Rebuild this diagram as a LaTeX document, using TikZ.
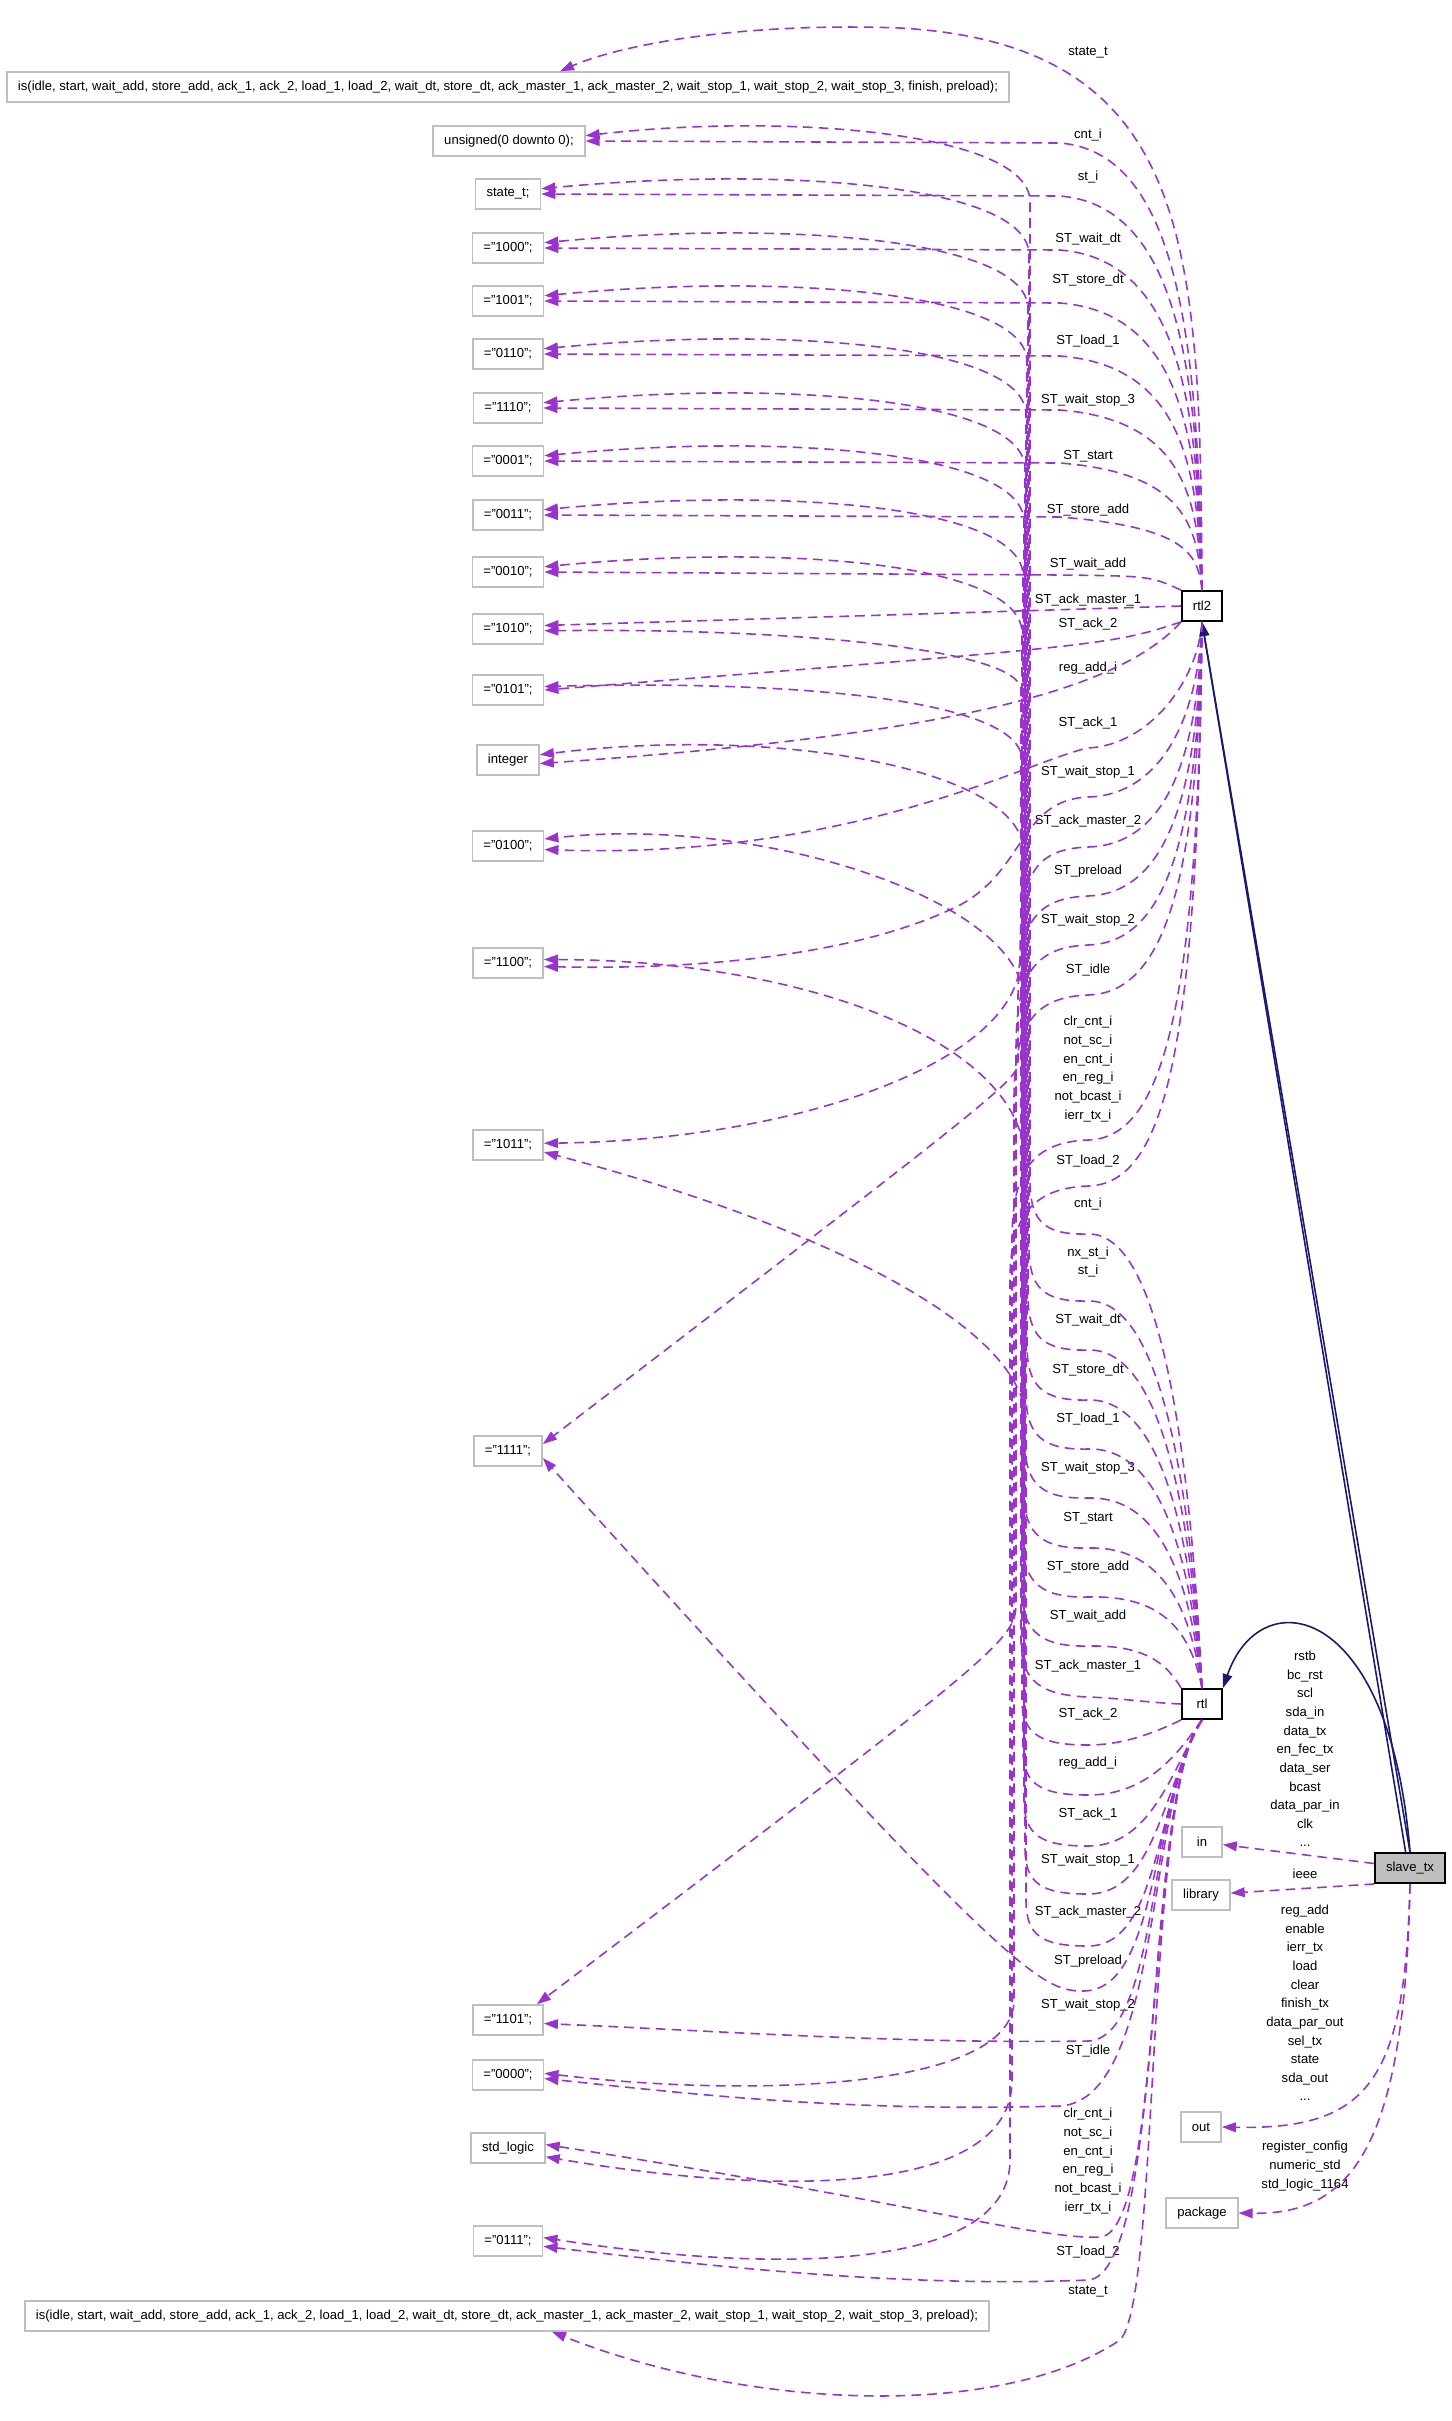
\documentclass[tikz,border=0pt]{standalone}
\usepackage{fontspec}
\setmainfont{Liberation Sans}
\usepackage{tikz}
\usetikzlibrary{arrows.meta, calc}
\definecolor{usecolor}{RGB}{154,50,205}
\definecolor{inhcolor}{RGB}{25,25,112}
\definecolor{boxgray}{RGB}{191,191,191}

\begin{document}
\begin{tikzpicture}[
    x=0.02cm, y=-0.02cm,
    gbox/.style={draw=boxgray, line width=0.9pt, fill=white, minimum width=0.8cm, minimum height=0.6cm, inner xsep=0.22cm, inner ysep=0pt, font=\fontsize{7.45}{10.6}\selectfont},
    cbox/.style={gbox, draw=black, line width=1.1pt},
    sbox/.style={gbox, draw=black, fill=boxgray, line width=1.1pt},
    lbl/.style={inner sep=0pt, align=center, font=\fontsize{7.45}{10.6}\selectfont},
    dep/.style={draw=usecolor, line width=0.9pt, dash pattern=on 5.5pt off 3.5pt, -{Triangle[length=8pt, width=5.5pt]}},
    inh/.style={draw=inhcolor, line width=0.9pt, -{Triangle[length=8pt, width=5.5pt]}}
]
    \useasboundingbox (0,0) rectangle (1451,2421);

    % type and value boxes
    \node[gbox] (istop) at (508,87) {is(idle, start, wait\_add, store\_add, ack\_1, ack\_2, load\_1, load\_2, wait\_dt, store\_dt, ack\_master\_1, ack\_master\_2, wait\_stop\_1, wait\_stop\_2, wait\_stop\_3, finish, preload);};
    \node[gbox] (unsgn) at (509,141) {unsigned(0 downto 0);};
    \node[gbox] (statet) at (508,194) {state\_t;};
    \node[gbox] (v1000) at (508,248) {="1000";};
    \node[gbox] (v1001) at (508,301) {="1001";};
    \node[gbox] (v0110) at (508,354) {="0110";};
    \node[gbox] (v1110) at (508,408) {="1110";};
    \node[gbox] (v0001) at (508,461) {="0001";};
    \node[gbox] (v0011) at (508,515) {="0011";};
    \node[gbox] (v0010) at (508,572) {="0010";};
    \node[gbox] (v1010) at (508,629) {="1010";};
    \node[gbox] (v0101) at (508,690) {="0101";};
    \node[gbox] (intg) at (508,760) {integer};
    \node[gbox] (v0100) at (508,846) {="0100";};
    \node[gbox] (v1100) at (508,963) {="1100";};
    \node[gbox] (v1011) at (508,1145) {="1011";};
    \node[gbox] (v1111) at (508,1451) {="1111";};
    \node[gbox] (v1101) at (508,2020) {="1101";};
    \node[gbox] (v0000) at (508,2075) {="0000";};
    \node[gbox] (stdlog) at (508,2148) {std\_logic};
    \node[gbox] (v0111) at (508,2241) {="0111";};
    \node[gbox] (isbot) at (507,2316) {is(idle, start, wait\_add, store\_add, ack\_1, ack\_2, load\_1, load\_2, wait\_dt, store\_dt, ack\_master\_1, ack\_master\_2, wait\_stop\_1, wait\_stop\_2, wait\_stop\_3, preload);};

    % architectures, entity and clauses
    \node[cbox] (rtltwo) at (1202,606) {rtl2};
    \node[cbox] (rtlone) at (1202,1704) {rtl};
    \node[sbox] (slave) at (1410,1868) {slave\_tx};
    \node[gbox] (inbox) at (1202,1842) {in};
    \node[gbox] (libbox) at (1201,1895) {library};
    \node[gbox] (outbox) at (1201,2127) {out};
    \node[gbox] (pkgbox) at (1202,2213) {package};

    % labels of rtl2
    \node[lbl] (l2state) at (1088,53) {state\_t};
    \node[lbl] (l2cnt) at (1088,135) {cnt\_i};
    \node[lbl] (l2st) at (1088,177) {st\_i};
    \node[lbl] (l2waitdt) at (1088,239) {ST\_wait\_dt};
    \node[lbl] (l2storedt) at (1088,280) {ST\_store\_dt};
    \node[lbl] (l2loadone) at (1088,341) {ST\_load\_1};
    \node[lbl] (l2waitstopthree) at (1088,400) {ST\_wait\_stop\_3};
    \node[lbl] (l2start) at (1088,456) {ST\_start};
    \node[lbl] (l2storeadd) at (1088,510) {ST\_store\_add};
    \node[lbl] (l2waitadd) at (1088,564) {ST\_wait\_add};
    \node[lbl] (l2ackmasterone) at (1088,600) {ST\_ack\_master\_1};
    \node[lbl] (l2acktwo) at (1088,624) {ST\_ack\_2};
    \node[lbl] (l2regadd) at (1088,668) {reg\_add\_i};
    \node[lbl] (l2ackone) at (1088,723) {ST\_ack\_1};
    \node[lbl] (l2waitstopone) at (1088,772) {ST\_wait\_stop\_1};
    \node[lbl] (l2ackmastertwo) at (1088,821) {ST\_ack\_master\_2};
    \node[lbl] (l2preload) at (1088,871) {ST\_preload};
    \node[lbl] (l2waitstoptwo) at (1088,920) {ST\_wait\_stop\_2};
    \node[lbl] (l2idle) at (1088,970) {ST\_idle};
    \node[lbl] (l2ctrl) at (1088,1069) {clr\_cnt\_i\\not\_sc\_i\\en\_cnt\_i\\en\_reg\_i\\not\_bcast\_i\\ierr\_tx\_i};
    \node[lbl] (l2loadtwo) at (1088,1161) {ST\_load\_2};

    % labels of rtl
    \node[lbl] (l1cnt) at (1088,1204) {cnt\_i};
    \node[lbl] (l1st) at (1088,1262) {nx\_st\_i\\st\_i};
    \node[lbl] (l1waitdt) at (1088,1320) {ST\_wait\_dt};
    \node[lbl] (l1storedt) at (1088,1370) {ST\_store\_dt};
    \node[lbl] (l1loadone) at (1088,1419) {ST\_load\_1};
    \node[lbl] (l1waitstopthree) at (1088,1468) {ST\_wait\_stop\_3};
    \node[lbl] (l1start) at (1088,1518) {ST\_start};
    \node[lbl] (l1storeadd) at (1088,1567) {ST\_store\_add};
    \node[lbl] (l1waitadd) at (1088,1616) {ST\_wait\_add};
    \node[lbl] (l1ackmasterone) at (1088,1666) {ST\_ack\_master\_1};
    \node[lbl] (l1acktwo) at (1088,1714) {ST\_ack\_2};
    \node[lbl] (l1regadd) at (1088,1763) {reg\_add\_i};
    \node[lbl] (l1ackone) at (1088,1814) {ST\_ack\_1};
    \node[lbl] (l1waitstopone) at (1088,1860) {ST\_wait\_stop\_1};
    \node[lbl] (l1ackmastertwo) at (1088,1912) {ST\_ack\_master\_2};
    \node[lbl] (l1preload) at (1088,1961) {ST\_preload};
    \node[lbl] (l1waitstoptwo) at (1088,2005) {ST\_wait\_stop\_2};
    \node[lbl] (l1idle) at (1088,2051) {ST\_idle};
    \node[lbl] (l1ctrl) at (1088,2161) {clr\_cnt\_i\\not\_sc\_i\\en\_cnt\_i\\en\_reg\_i\\not\_bcast\_i\\ierr\_tx\_i};
    \node[lbl] (l1loadtwo) at (1088,2252) {ST\_load\_2};
    \node[lbl] (l1state) at (1088,2292) {state\_t};

    % labels of slave_tx
    \node[lbl] (lin) at (1305,1749) {rstb\\bc\_rst\\scl\\sda\_in\\data\_tx\\en\_fec\_tx\\data\_ser\\bcast\\data\_par\_in\\clk\\...};
    \node[lbl] (lieee) at (1305,1874) {ieee};
    \node[lbl] (lout) at (1305,2003) {reg\_add\\enable\\ierr\_tx\\load\\clear\\finish\_tx\\data\_par\_out\\sel\_tx\\state\\sda\_out\\...};
    \node[lbl] (lpkg) at (1305,2166) {register\_config\\numeric\_std\\std\_logic\_1164};

    % slave_tx connections
    \draw[inh] (slave.north) -- (rtltwo.south);
    \draw[inh] ([xshift=-2.5pt]slave.north) -- (rtltwo.south);
    \draw[inh] (slave.north) .. controls (1390,1600) and (1260,1580) .. (rtlone.north east);
    \draw[dep] (slave) -- (inbox);
    \draw[dep] (slave.south west) -- (libbox);
    \draw[dep] (slave.south) .. controls (1405,2080) and (1370,2130) .. (outbox.east);
    \draw[dep] (slave.south) .. controls (1405,2150) and (1350,2215) .. (pkgbox.east);

    % rtl2 to upper boxes
    \draw[dep] (rtltwo.north) .. controls (1200,250) and (1195,45) .. (900,28) .. controls (740,22) and (620,45) .. ([xshift=1.04cm]istop.north);
    \draw[dep] (rtltwo.north) .. controls (1198,366) and (1185,153) .. (1060,143) -- (unsgn.east);
    \draw[dep] (rtltwo.north) .. controls (1198,392) and (1185,206) .. (1060,196) -- (statet.east);
    \draw[dep] (rtltwo.north) .. controls (1198,420) and (1185,260) .. (1060,250) -- (v1000.east);
    \draw[dep] (rtltwo.north) .. controls (1198,446) and (1185,313) .. (1060,303) -- (v1001.east);
    \draw[dep] (rtltwo.north) .. controls (1198,472) and (1185,366) .. (1060,356) -- (v0110.east);
    \draw[dep] (rtltwo.north) .. controls (1198,500) and (1185,420) .. (1060,410) -- (v1110.east);
    \draw[dep] (rtltwo.north) .. controls (1198,526) and (1185,473) .. (1060,463) -- (v0001.east);
    \draw[dep] (rtltwo.north) .. controls (1198,553) and (1185,527) .. (1060,517) -- (v0011.east);
    \draw[dep] (rtltwo.north west) .. controls (1150,576) .. (1060,575) -- (v0010.east);
    \draw[dep] (rtltwo.west) -- ([yshift=2pt]v1010.east);
    \draw[dep] (rtltwo.south west) .. controls (1110,645) .. (v0101.east);
    \draw[dep] (rtltwo.south west) .. controls (1120,690) and (950,735) .. ([yshift=-2pt]intg.east);

    % rtl2 to lower boxes
    \draw[dep] (rtltwo.south) .. controls (1198,680) and (1150,745) .. (1088,748) .. controls (1030,760) and (850,860) .. ([yshift=-2pt]v0100.east);
    \draw[dep] (rtltwo.south) .. controls (1198,720) and (1160,795) .. (1088,797) .. controls (1020,800) and (1025,870) .. (960,905) .. controls (860,955) and (700,970) .. ([yshift=-2pt]v1100.east);
    \draw[dep] (rtltwo.south) .. controls (1198,760) and (1165,845) .. (1088,847) .. controls (1030,849) and (1020,880) .. (1020,960) .. controls (1020,1060) and (800,1140) .. ([yshift=1pt]v1011.east);
    \draw[dep] (rtltwo.south) .. controls (1198,800) and (1165,893) .. (1088,896) .. controls (1030,898) and (1018,930) .. (1018,1000) -- (1018,1060) .. controls (1018,1080) .. ([yshift=4pt]v1111.east);
    \draw[dep] (rtltwo.south) .. controls (1198,840) and (1165,943) .. (1088,945) .. controls (1030,947) and (1016,980) .. (1016,1050) -- (1016,1600) .. controls (1016,1640) .. ([xshift=-0.14cm]v1101.north east);
    \draw[dep] (rtltwo.south) .. controls (1198,880) and (1165,993) .. (1088,995) .. controls (1030,997) and (1014,1030) .. (1014,1100) -- (1014,2000) .. controls (1014,2090) and (750,2098) .. ([yshift=1pt]v0000.east);
    \draw[dep] (rtltwo.south) .. controls (1198,1000) and (1165,1138) .. (1088,1140) .. controls (1030,1142) and (1012,1175) .. (1012,1240) -- (1012,2080) .. controls (1012,2190) and (800,2200) .. ([yshift=-5pt]stdlog.east);
    \draw[dep] (rtltwo.south) .. controls (1198,1050) and (1165,1184) .. (1088,1186) .. controls (1030,1188) and (1010,1220) .. (1010,1280) -- (1010,2160) .. controls (1010,2270) and (780,2275) .. ([yshift=2pt]v0111.east);

    % rtl to upper boxes
    \draw[dep] (rtlone.north) .. controls (1190,1446) and (1160,1232) .. (1088,1234) .. controls (1042,1235) and (1030,1220) .. (1030,1179) -- (1030,201) .. controls (1028,131) and (780,113) .. ([yshift=3pt]unsgn.east);
    \draw[dep] (rtlone.north) .. controls (1190,1480) and (1160,1299) .. (1088,1301) .. controls (1042,1302) and (1029,1287) .. (1029,1246) -- (1029,254) .. controls (1027,184) and (780,166) .. ([yshift=3pt]statet.east);
    \draw[dep] (rtlone.north) .. controls (1190,1505) and (1160,1348) .. (1088,1350) .. controls (1042,1351) and (1028,1336) .. (1028,1295) -- (1028,308) .. controls (1026,238) and (780,220) .. ([yshift=3pt]v1000.east);
    \draw[dep] (rtlone.north) .. controls (1190,1530) and (1160,1398) .. (1088,1400) .. controls (1042,1401) and (1027,1386) .. (1027,1345) -- (1027,361) .. controls (1025,291) and (780,273) .. ([yshift=3pt]v1001.east);
    \draw[dep] (rtlone.north) .. controls (1190,1554) and (1160,1447) .. (1088,1449) .. controls (1042,1450) and (1026,1435) .. (1026,1394) -- (1026,414) .. controls (1024,344) and (780,326) .. ([yshift=3pt]v0110.east);
    \draw[dep] (rtlone.north) .. controls (1190,1579) and (1160,1496) .. (1088,1498) .. controls (1042,1499) and (1025,1484) .. (1025,1443) -- (1025,468) .. controls (1023,398) and (780,380) .. ([yshift=3pt]v1110.east);
    \draw[dep] (rtlone.north) .. controls (1190,1604) and (1160,1546) .. (1088,1548) .. controls (1042,1549) and (1024,1534) .. (1024,1493) -- (1024,521) .. controls (1022,451) and (780,433) .. ([yshift=3pt]v0001.east);
    \draw[dep] (rtlone.north) .. controls (1190,1628) and (1160,1595) .. (1088,1597) .. controls (1042,1598) and (1023,1583) .. (1023,1542) -- (1023,575) .. controls (1021,505) and (780,487) .. ([yshift=3pt]v0011.east);
    \draw[dep] (rtlone.north west) .. controls (1165,1660) and (1140,1645) .. (1088,1646) .. controls (1042,1647) and (1022,1632) .. (1022,1591) -- (1022,632) .. controls (1020,562) and (780,544) .. ([yshift=3pt]v0010.east);
    \draw[dep] (rtlone.west) .. controls (1140,1702) and (1120,1698) .. (1088,1697) .. controls (1042,1695) and (1021,1682) .. (1021,1641) -- (1021,690) .. controls (1021,650) and (800,628) .. ([yshift=-1pt]v1010.east);
    \draw[dep] (rtlone.south west) .. controls (1150,1735) and (1120,1745) .. (1088,1745) .. controls (1042,1745) and (1022,1735) .. (1022,1700) -- (1022,760) .. controls (1022,700) and (800,680) .. ([yshift=2pt]v0101.east);
    \draw[dep] (rtlone.south) .. controls (1180,1750) and (1150,1795) .. (1088,1795) .. controls (1042,1795) and (1023,1785) .. (1023,1750) -- (1023,850) .. controls (1022,770) and (780,725) .. ([yshift=3pt]intg.east);
    \draw[dep] (rtlone.south) .. controls (1170,1775) and (1150,1846) .. (1088,1846) .. controls (1042,1846) and (1024,1836) .. (1024,1800) -- (1024,1000) .. controls (1022,900) and (760,815) .. ([yshift=4pt]v0100.east);
    \draw[dep] (rtlone.south) .. controls (1162,1790) and (1155,1894) .. (1088,1894) .. controls (1042,1894) and (1025,1884) .. (1025,1848) -- (1025,1160) .. controls (1022,1040) and (800,960) .. ([yshift=2pt]v1100.east);
    \draw[dep] (rtlone.south) .. controls (1155,1800) and (1160,1946) .. (1088,1946) .. controls (1042,1946) and (1026,1936) .. (1026,1900) -- (1026,1420) .. controls (1022,1320) and (800,1220) .. ([yshift=-4pt]v1011.east);
    \draw[dep] (rtlone.south) .. controls (1150,1800) and (1160,1991) .. (1083,1991) .. controls (1040,1991) and (1010,1975) .. ([yshift=-4pt]v1111.east);

    % rtl to lower boxes
    \draw[dep] (rtlone.south) .. controls (1148,1795) and (1160,2038) .. (1088,2041) .. controls (900,2044) and (700,2030) .. ([yshift=-2pt]v1101.east);
    \draw[dep] (rtlone.south) .. controls (1147,1795) and (1162,2100) .. (1060,2106) .. controls (850,2112) and (700,2095) .. ([yshift=-2pt]v0000.east);
    \draw[dep] (rtlone.south) .. controls (1145,1790) and (1165,2232) .. (1100,2237) .. controls (1040,2240) and (900,2200) .. ([yshift=2pt]stdlog.east);
    \draw[dep] (rtlone.south) .. controls (1145,1790) and (1165,2275) .. (1088,2280) .. controls (900,2288) and (700,2265) .. ([yshift=-3pt]v0111.east);
    \draw[dep] (rtlone.south) .. controls (1145,1790) and (1160,2300) .. (1120,2340) .. controls (1000,2420) and (750,2410) .. ([xshift=0.9cm]isbot.south);
\end{tikzpicture}
\end{document}
